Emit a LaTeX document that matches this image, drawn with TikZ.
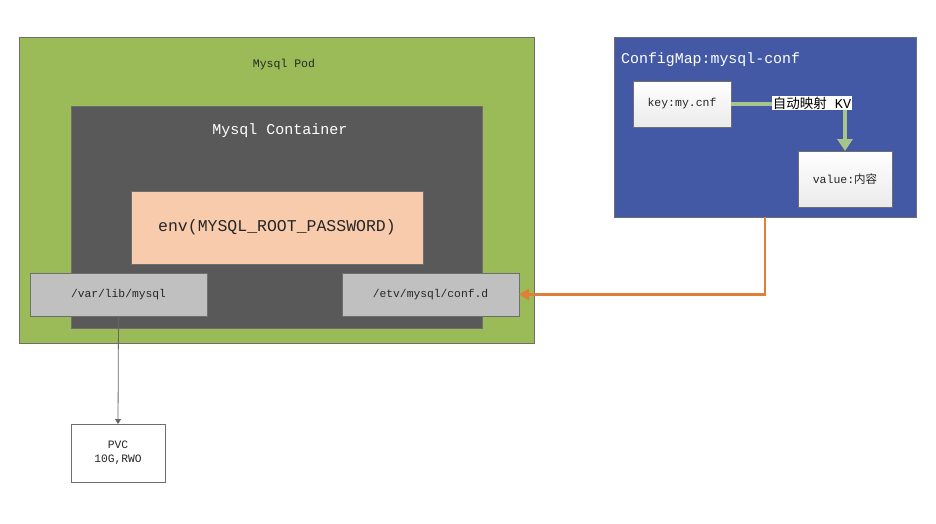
\documentclass[tikz,border=0pt]{standalone}
\usepackage{fontspec}
\setmainfont{Liberation Mono}
\newfontfamily\cjk{Noto Sans CJK SC}
\usetikzlibrary{arrows.meta}
\definecolor{podgreen}{HTML}{9BBB59}
\definecolor{contgray}{HTML}{595959}
\definecolor{peach}{HTML}{F8CBAD}
\definecolor{volgray}{HTML}{C0C0C0}
\definecolor{cmblue}{HTML}{4359A5}
\definecolor{bord}{HTML}{6E6E6E}
\definecolor{kvgreen}{HTML}{A9C48B}
\definecolor{orangeln}{HTML}{E07F36}
\tikzset{
  boxx/.style={draw=bord, line width=0.9pt, anchor=north west, inner sep=0pt, outer sep=0pt},
  whitebox/.style={boxx, top color=white, bottom color=black!8},
}
\begin{document}
\begin{tikzpicture}[x=1pt,y=-1pt]
\useasboundingbox (0,0) rectangle (936,523);
% Pod
\node[boxx, fill=podgreen, minimum width=515pt, minimum height=306pt] (pod) at (19,37) {};
\node[text=black!85, font=\fontsize{11.5}{13}\selectfont] (podt) at (284,65) {Mysql Pod};
% Container
\node[boxx, fill=contgray, minimum width=411pt, minimum height=222pt] (cont) at (71,106) {};
\node[text=white, font=\fontsize{15}{17}\selectfont] (contt) at (280,131) {Mysql Container};
% env
\node[boxx, fill=peach, minimum width=292pt, minimum height=73pt] (env) at (131,191) {};
\node[text=black!85, font=\fontsize{16.5}{18}\selectfont] (envt) at (env.center) {env(MYSQL\_ROOT\_PASSWORD)};
% volumes
\node[boxx, fill=volgray, minimum width=177pt, minimum height=43pt, font=\fontsize{11.3}{13}\selectfont, text=black!85] (var) at (30,273) {};
\node[font=\fontsize{11.3}{13}\selectfont, text=black!85] (vart) at (var.center) {/var/lib/mysql};
\node[boxx, fill=volgray, minimum width=177pt, minimum height=43pt] (etv) at (342,273) {};
\node[font=\fontsize{11.3}{13}\selectfont, text=black!85] (etvt) at (etv.center) {/etv/mysql/conf.d};
% PVC
\node[boxx, fill=white, minimum width=94pt, minimum height=58pt] (pvc) at (71,424) {};
\node[font=\fontsize{11.3}{14}\selectfont, text=black!85, align=center] (pvct) at (pvc.center) {PVC\\10G,RWO};
% ConfigMap
\node[boxx, fill=cmblue, minimum width=302pt, minimum height=180pt] (cm) at (614,37) {};
\node[text=white, anchor=west, inner sep=0pt, font=\fontsize{14.9}{17}\selectfont] (cmt) at (621,60) {ConfigMap:mysql-conf};
\node[whitebox, minimum width=98pt, minimum height=46pt] (key) at (633,81) {};
\node[font=\fontsize{11.5}{13}\selectfont, text=black!85] (keyt) at (key.center) {key:my.cnf};
\node[whitebox, minimum width=94pt, minimum height=56pt] (val) at (798,151) {};
\node[font=\fontsize{11.5}{13}\selectfont, text=black!85] (valt) at (val.center) {value:{\cjk 内容}};
% connectors
\coordinate (bend) at (845,104);
\draw[kvgreen, line width=4pt, -{Triangle[width=15pt,length=12pt]}] (key.east) -- (bend) -- (bend |- val.north);
\node[fill=white, inner sep=1pt, font=\fontsize{13.5}{15}\selectfont] (kvl) at (812,103) {{\cjk 自动映射} KV};
\draw[orangeln, line width=2.6pt, -{Triangle[width=11pt,length=10pt]}] (cm.south) |- (etv.east);
\draw[black!60, line width=0.8pt, -{Triangle[width=6pt,length=5pt]}] (var.south) -- (pvc.north);
\end{tikzpicture}
\end{document}
